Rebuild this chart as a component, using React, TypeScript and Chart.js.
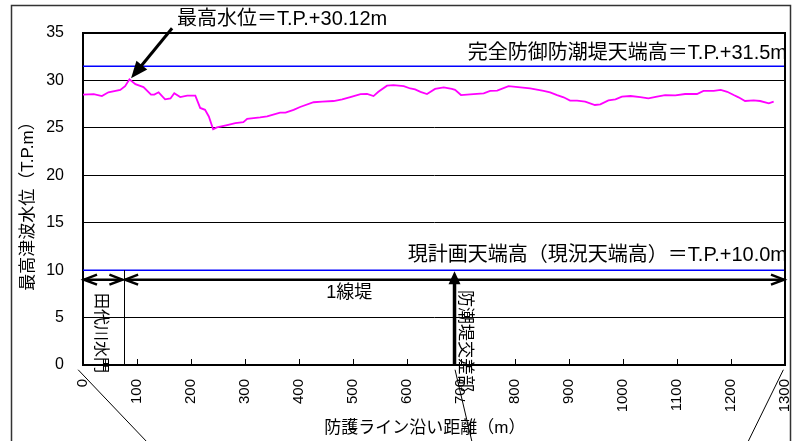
import { useEffect, useRef } from "react";
import { Chart, registerables } from "chart.js";

Chart.register(...registerables);

// Distance along the protection line (m)
const distances = [
  0, 20, 35, 47, 69, 78, 86, 97, 112, 126, 132, 140, 152, 162, 169, 180, 193, 208,
  217, 226, 233, 241, 248, 267, 282, 297, 304, 328, 341, 365, 375, 390, 402, 427,
  443, 464, 480, 495, 514, 526, 538, 547, 563, 575, 594, 606, 615, 625, 637, 652,
  668, 683, 689, 700, 717, 742, 754, 767, 788, 810, 828, 853, 865, 878, 890, 902,
  915, 930, 948, 958, 973, 986, 998, 1014, 1032, 1047, 1063, 1078, 1097, 1115, 1137,
  1149, 1168, 1181, 1193, 1205, 1214, 1226, 1242, 1254, 1270, 1279,
];

// Maximum tsunami water level (T.P. m)
const levels = [
  28.5, 28.55, 28.35, 28.75, 29.0, 29.4, 30.12, 29.6, 29.3, 28.5, 28.5, 28.75, 28.0,
  28.1, 28.65, 28.25, 28.4, 28.4, 27.1, 26.9, 26.2, 24.85, 25.05, 25.3, 25.5, 25.6,
  25.95, 26.1, 26.2, 26.6, 26.6, 26.9, 27.2, 27.7, 27.76, 27.83, 28.0, 28.25, 28.55,
  28.57, 28.35, 28.8, 29.45, 29.5, 29.4, 29.15, 29.05, 28.8, 28.57, 29.1, 29.27, 29.1,
  29.0, 28.46, 28.53, 28.64, 28.9, 28.93, 29.4, 29.27, 29.17, 28.9, 28.74, 28.46,
  28.22, 27.87, 27.87, 27.76, 27.41, 27.48, 27.9, 28.0, 28.29, 28.36, 28.25, 28.1,
  28.29, 28.46, 28.42, 28.57, 28.57, 28.9, 28.9, 29.0, 28.8, 28.46, 28.22, 27.83,
  27.9, 27.83, 27.58, 27.76,
];

const xMin = 0;
const xMax = 1300;
const xStep = 100;
const yMin = 0;
const yMax = 35;
const yStep = 5;

const peakDistance = 86;
const peakLevel = 30.12;
const fullDefenseCrest = 31.5;
const currentCrest = 10.0;
const sluiceDistance = 76;
const junctionDistance = 688;
const spanLevel = 9;

const peakLabel = "最高水位＝T.P.+30.12m";
const fullDefenseLabel = "完全防御防潮堤天端高＝T.P.+31.5m";
const currentCrestLabel = "現計画天端高（現況天端高）＝T.P.+10.0m";
const embankmentLabel = "1線堤";
const sluiceLabel = "田代川水門";
const junctionLabel = "防潮堤交差部";
const yTitle = "最高津波水位（T.P.m）";
const xTitle = "防護ライン沿い距離（m）";

const FONT = '"Liberation Sans", "Noto Sans CJK JP", sans-serif';

function arrowHead(
  ctx: CanvasRenderingContext2D,
  x1: number, y1: number, x2: number, y2: number,
  len: number, half: number, filled: boolean
) {
  const ang = Math.atan2(y2 - y1, x2 - x1);
  const bx = x2 - len * Math.cos(ang);
  const by = y2 - len * Math.sin(ang);
  const nx = -Math.sin(ang);
  const ny = Math.cos(ang);
  ctx.beginPath();
  ctx.moveTo(bx + nx * half, by + ny * half);
  ctx.lineTo(x2, y2);
  ctx.lineTo(bx - nx * half, by - ny * half);
  if (filled) {
    ctx.closePath();
    ctx.fill();
  } else {
    ctx.stroke();
  }
}

function line(ctx: CanvasRenderingContext2D, x1: number, y1: number, x2: number, y2: number) {
  ctx.beginPath();
  ctx.moveTo(x1, y1);
  ctx.lineTo(x2, y2);
  ctx.stroke();
}

const overlay = {
  id: "overlay",
  afterDraw(chart: any) {
    const { ctx, chartArea: a, scales } = chart;
    const xs = scales.x;
    const ys = scales.y;
    const px = (v: number) => xs.getPixelForValue(v);
    const py = (v: number) => ys.getPixelForValue(v);
    ctx.save();

    // chart frame
    ctx.strokeStyle = "#333";
    ctx.lineWidth = 1.5;
    ctx.strokeRect(11.5, 5.5, 779, 470);

    // plot frame top & right
    ctx.strokeStyle = "#000";
    ctx.lineWidth = 2;
    ctx.beginPath();
    ctx.moveTo(a.left, a.top);
    ctx.lineTo(a.right, a.top);
    ctx.lineTo(a.right, a.bottom);
    ctx.stroke();

    // inward tick marks on the distance axis
    ctx.lineWidth = 1;
    for (let v = xMin + xStep; v < xMax; v += xStep) {
      const x = Math.round(px(v)) + 0.5;
      line(ctx, x, a.bottom, x, a.bottom - 6);
    }

    // leader lines below the axis
    ctx.lineWidth = 1;
    line(ctx, px(-9), py(-0.5), px(125), py(-8.5));
    line(ctx, px(1297), py(-0.5), px(1228), py(-8.5));
    line(ctx, px(689), py(-0.5), px(722), py(-8.5));

    // peak arrow
    ctx.fillStyle = "#000";
    ctx.strokeStyle = "#000";
    ctx.lineWidth = 3;
    {
      const x1 = px(165), y1 = py(35.5);
      const x2 = px(peakDistance + 3), y2 = py(peakLevel) - 1;
      const ang = Math.atan2(y2 - y1, x2 - x1);
      line(ctx, x1, y1, x2 - 14 * Math.cos(ang), y2 - 14 * Math.sin(ang));
      arrowHead(ctx, x1, y1, x2, y2, 17, 7, true);
    }

    // span arrows at the bottom
    ctx.lineWidth = 2.5;
    const sy = py(spanLevel);
    {
      const xa = px(xMin) + 1, xb = px(sluiceDistance - 3);
      line(ctx, xa, sy, xb, sy);
      arrowHead(ctx, xb, sy, xa, sy, 13, 5, false);
      arrowHead(ctx, xa, sy, xb, sy, 13, 5, false);
    }
    {
      const xa = px(sluiceDistance + 2), xb = px(xMax) - 1;
      line(ctx, xa, sy, xb, sy);
      arrowHead(ctx, xb, sy, xa, sy, 13, 5, false);
      arrowHead(ctx, xa, sy, xb, sy, 13, 5, false);
    }

    // sluice boundary
    ctx.lineWidth = 1;
    {
      const x = Math.round(px(sluiceDistance)) + 0.5;
      line(ctx, x, py(currentCrest), x, py(0));
    }

    // junction arrow
    ctx.lineWidth = 3.5;
    {
      const x = px(junctionDistance);
      line(ctx, x, py(0), x, py(currentCrest) + 11);
      arrowHead(ctx, x, py(0), x, py(currentCrest) + 1, 13, 6, true);
    }

    // labels
    ctx.fillStyle = "#000";
    ctx.textBaseline = "middle";
    ctx.font = `20px ${FONT}`;
    ctx.textAlign = "left";
    ctx.fillText(peakLabel, px(174), py(36.45));
    ctx.textAlign = "right";
    ctx.fillText(fullDefenseLabel, px(xMax) + 2, py(fullDefenseCrest) - 13);
    ctx.fillText(currentCrestLabel, px(xMax) + 2, py(currentCrest) - 15);

    ctx.font = `18px ${FONT}`;
    ctx.textAlign = "center";
    ctx.fillText(embankmentLabel, px(493), py(7.6));

    // vertical labels
    ctx.save();
    ctx.font = `16px ${FONT}`;
    ctx.translate(px(32), py(7.6));
    ctx.rotate(Math.PI / 2);
    ctx.textAlign = "left";
    ctx.fillText(sluiceLabel, 0, 0);
    ctx.restore();

    ctx.save();
    ctx.font = `17px ${FONT}`;
    ctx.translate(px(706), py(7.9));
    ctx.rotate(Math.PI / 2);
    ctx.textAlign = "left";
    ctx.fillText(junctionLabel, 0, 0);
    ctx.restore();

    // axis titles
    ctx.save();
    ctx.font = `17px ${FONT}`;
    ctx.translate(28, (a.top + a.bottom) / 2 + 3);
    ctx.rotate(-Math.PI / 2);
    ctx.textAlign = "center";
    ctx.fillText(yTitle, 0, 0);
    ctx.restore();

    ctx.font = `17px ${FONT}`;
    ctx.textAlign = "center";
    ctx.fillText(xTitle, px(633), 428);

    ctx.restore();
  },
};

export default function App() {
  const canvasRef = useRef<HTMLCanvasElement | null>(null);

  useEffect(() => {
    const canvas = canvasRef.current;
    if (!canvas) return;
    const points = distances.map((d, i) => ({ x: d, y: levels[i] }));
    const chart = new Chart(canvas, {
      type: "line",
      data: {
        datasets: [
          {
            data: [{ x: xMin, y: fullDefenseCrest }, { x: xMax, y: fullDefenseCrest }],
            borderColor: "#0000ff",
            borderWidth: 1.5,
            pointRadius: 0,
          },
          {
            data: [{ x: xMin, y: currentCrest }, { x: xMax, y: currentCrest }],
            borderColor: "#0000ff",
            borderWidth: 1.5,
            pointRadius: 0,
          },
          {
            data: points,
            borderColor: "#ff00ff",
            borderWidth: 1.8,
            pointRadius: 0,
            tension: 0,
          },
        ],
      },
      options: {
        responsive: false,
        animation: false,
        events: [],
        layout: { padding: { top: 33, right: 14, left: 0, bottom: 0 } },
        plugins: {
          legend: { display: false },
          tooltip: { enabled: false },
          title: { display: false },
        },
        scales: {
          x: {
            type: "linear",
            min: xMin,
            max: xMax,
            grid: { display: false, drawTicks: false },
            border: { display: true, color: "#000", width: 2 },
            ticks: {
              stepSize: xStep,
              autoSkip: false,
              minRotation: 90,
              maxRotation: 90,
              padding: 14,
              color: "#000",
              font: { family: FONT, size: 15 },
              callback: (v: any) => String(v),
            },
            afterFit: (scale: any) => {
              scale.height = 76;
              scale.paddingLeft = 0;
              scale.paddingRight = 0;
            },
          },
          y: {
            type: "linear",
            min: yMin,
            max: yMax,
            grid: { color: "#000", lineWidth: 1, drawTicks: false },
            border: { display: true, color: "#000", width: 2 },
            ticks: {
              stepSize: yStep,
              padding: 19,
              color: "#000",
              font: { family: FONT, size: 16 },
            },
            afterFit: (scale: any) => {
              scale.width = 83;
              scale.paddingTop = 0;
              scale.paddingBottom = 0;
            },
          },
        },
      },
      plugins: [overlay],
    });
    return () => chart.destroy();
  }, []);

  return (
    <div style={{ position: "fixed", left: 0, top: 0, width: 799, height: 441, background: "#fff" }}>
      <canvas ref={canvasRef} width={799} height={441} />
    </div>
  );
}
